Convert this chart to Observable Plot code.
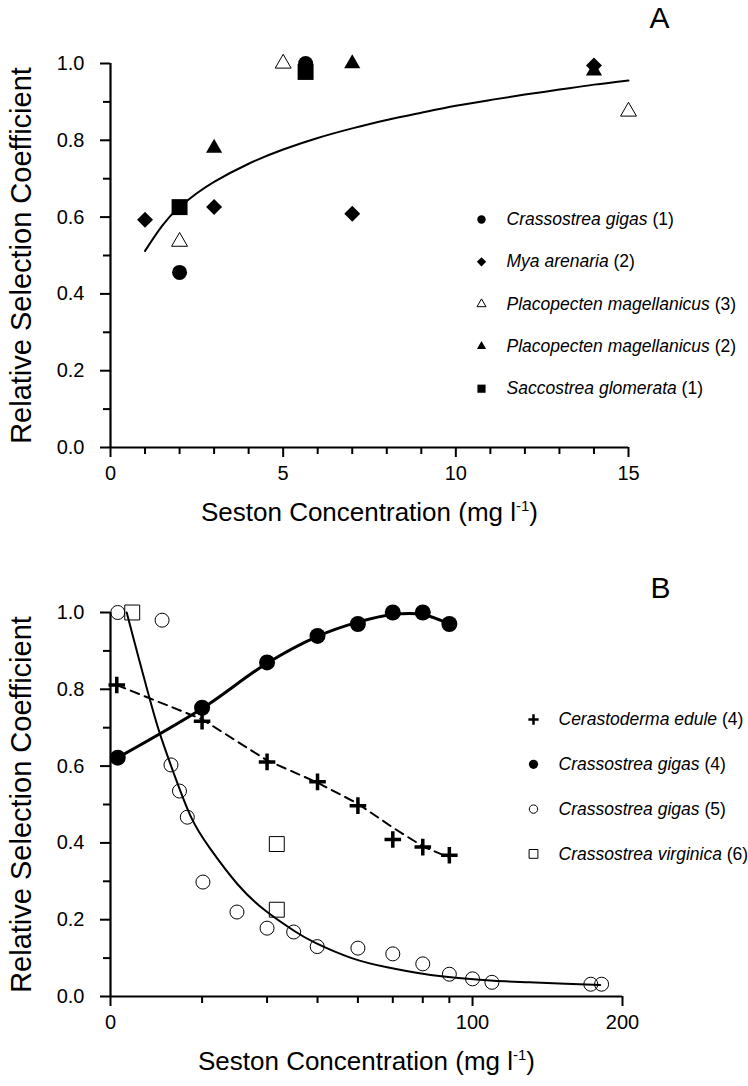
<!DOCTYPE html>
<html><head><meta charset="utf-8">
<script src="https://cdn.jsdelivr.net/npm/d3@7"></script>
<script src="https://cdn.jsdelivr.net/npm/@observablehq/plot@0.6"></script>
<style>
body{margin:0;background:#fff;}
#chart{width:748px;}
#chart svg{display:block;}
</style></head><body><div id="chart"></div>
<script>
// ---------- Panel A data ----------
const aNames = ["Crassostrea gigas", "Mya arenaria", "Placopecten magellanicus", "Placopecten magellanicus", "Saccostrea glomerata"];
const aRefs = ["(1)", "(2)", "(3)", "(2)", "(1)"];
const aCgigasX = [2, 5.65];
const aCgigasY = [0.456, 1.0];
const aMyaX = [1, 3, 7, 14];
const aMyaY = [0.593, 0.626, 0.609, 0.995];
const aPmag3X = [2, 5, 15];
const aPmag3Y = [0.536, 1.0, 0.875];
const aPmag2X = [3, 7, 14];
const aPmag2Y = [0.78, 1.0, 0.981];
const aSglomX = [2, 5.65];
const aSglomY = [0.626, 0.978];
const aFitX = [1, 1.5, 2, 2.5, 3, 4, 5, 6, 7, 8, 9, 10, 11, 12, 13, 14, 15];
const aFitY = [0.512, 0.578, 0.626, 0.662, 0.692, 0.739, 0.776, 0.806, 0.831, 0.853, 0.872, 0.890, 0.905, 0.919, 0.932, 0.945, 0.956];
const aXMajor = [0, 5, 10, 15];
const aXMinor = [1, 2, 3, 4, 6, 7, 8, 9, 11, 12, 13, 14];

// ---------- Panel B data ----------
const bNames = ["Cerastoderma edule", "Crassostrea gigas", "Crassostrea gigas", "Crassostrea virginica"];
const bRefs = ["(4)", "(4)", "(5)", "(6)"];
const bEduleX = [0.03, 6.4, 18.7, 32.7, 46.7, 60.8, 74.4, 87.6];
const bEduleY = [0.811, 0.717, 0.611, 0.559, 0.497, 0.409, 0.389, 0.368];
const bEduleFitX = [0.03, 6.4, 18.7, 32.7, 46.7, 60.8, 74.4, 87.6];
const bEduleFitY = [0.811, 0.722, 0.615, 0.557, 0.502, 0.440, 0.391, 0.362];
const bGigas4X = [0.04, 6.4, 18.7, 32.7, 46.7, 60.8, 74.4, 87.6];
const bGigas4Y = [0.622, 0.752, 0.870, 0.939, 0.970, 1.0, 1.0, 0.970];
const bGigas4FitY = [0.622, 0.750, 0.868, 0.938, 0.975, 0.995, 0.995, 0.970];
const bGigas5X = [0.04, 2.03, 2.79, 3.63, 4.5, 6.52, 12.2, 18.7, 25.6, 32.6, 46.7, 60.8, 74.4, 87.6, 100, 111, 176, 184];
const bGigas5Y = [1.0, 0.98, 0.603, 0.535, 0.467, 0.298, 0.22, 0.178, 0.168, 0.13, 0.126, 0.111, 0.085, 0.058, 0.046, 0.037, 0.032, 0.032];
const bGigas5FitX = [0.2, 0.6, 1.1, 1.8, 3.1, 5.0, 7.5, 12.4, 18.5, 25.9, 32.2, 44.4, 58.4, 74.4, 92.3, 112, 134, 158, 183];
const bGigas5FitY = [1.0, 0.883, 0.787, 0.691, 0.578, 0.465, 0.387, 0.291, 0.222, 0.170, 0.139, 0.100, 0.076, 0.059, 0.048, 0.041, 0.037, 0.033, 0.030];
const bVirgX = [0.36, 21.1, 21.1];
const bVirgY = [1.0, 0.397, 0.226];
const bXMajor = [0, 100, 200];
const bXMinor = [6.4, 18.7, 32.7, 46.7, 60.8, 74.4, 87.6];

const yMajor = [0, 0.2, 0.4, 0.6, 0.8, 1.0];
const yMinor = [0.1, 0.3, 0.5, 0.7, 0.9];
const yTitle = "Relative Selection Coefficient";
const xTitle = "Seston Concentration (mg l|-1|)";

// ---------- styles ----------
const FONT = "'Liberation Sans', Arial, Helvetica, sans-serif";
const aStyles = [
  {symbol: "circle", fill: "black", stroke: "none", r: 7.5, lr: 4.2, sw: 1},
  {symbol: "diamond2", fill: "black", stroke: "none", r: 7.2, lr: 4.2, sw: 1},
  {symbol: "triangle2", fill: "none", stroke: "black", r: 7.6, lr: 4.3, sw: 1},
  {symbol: "triangle", fill: "black", stroke: "none", r: 6, lr: 3.4, sw: 1},
  {symbol: "square", fill: "black", stroke: "none", r: 9, lr: 4.6, sw: 1}
];
const bStyles = [
  {symbol: "plus", fill: "none", stroke: "black", r: 5.4, lr: 3.4, sw: 3.5, lsw: 2.5},
  {symbol: "circle", fill: "black", stroke: "none", r: 8, lr: 4.6, sw: 1, lsw: 1},
  {symbol: "circle", fill: "none", stroke: "black", r: 7, lr: 4.2, sw: 1, lsw: 1},
  {symbol: "square2", fill: "none", stroke: "black", r: 9.5, lr: 5.6, sw: 1, lsw: 1}
];

const zip = (xs, ys) => xs.map((x, i) => ({x, y: ys[i]}));

function dots(xs, ys, s) {
  return Plot.dot(zip(xs, ys), {x: "x", y: "y", symbol: () => s.symbol, r: s.r, fill: s.fill, stroke: s.stroke, strokeWidth: s.sw});
}

function legend(names, refs, styles, dx0, dy0, gap, tdx) {
  const marks = [];
  names.forEach((n, i) => {
    const s = styles[i];
    marks.push(Plot.dot([0], {frameAnchor: "top-left", dx: dx0, dy: dy0 + i * gap, symbol: () => s.symbol, r: s.lr, fill: s.fill, stroke: s.stroke, strokeWidth: s.lsw || s.sw}));
    marks.push(Plot.text([n + "|" + refs[i]], {text: d => d, frameAnchor: "top-left", dx: tdx, dy: dy0 + i * gap, textAnchor: "start", lineAnchor: "middle", fontSize: 17.5, className: "leg"}));
  });
  return marks;
}

function commonAxes(xMajor, xMinor) {
  return [
    Plot.axisY(yMajor, {tickSize: 10, tickPadding: 16, tickFormat: d3.format(".1f"), fontSize: 20, strokeWidth: 2, label: null}),
    Plot.axisY(yMinor, {tickSize: 7, tickFormat: () => "", strokeWidth: 2, label: null}),
    Plot.axisX(xMajor, {tickSize: 10, tickPadding: 8, tickFormat: d => d, fontSize: 20, strokeWidth: 2, label: null}),
    Plot.axisX(xMinor, {tickSize: 7, tickFormat: () => "", strokeWidth: 2, label: null}),
    Plot.ruleX([0], {strokeWidth: 2.2}),
    Plot.ruleY([0], {strokeWidth: 2.2}),
    Plot.text([yTitle], {text: d => d, frameAnchor: "left", dx: -89, rotate: -90, textAnchor: "middle", lineAnchor: "middle", fontSize: 29}),
    Plot.text([xTitle], {text: d => d, frameAnchor: "bottom", dy: 65, textAnchor: "middle", lineAnchor: "middle", fontSize: 26, className: "xtitle"})
  ];
}

const plotA = Plot.plot({
  width: 748, height: 543,
  marginLeft: 110, marginRight: 120, marginTop: 63, marginBottom: 96,
  style: {fontFamily: FONT, fontSize: "20px", color: "black", background: "white"},
  x: {domain: [0, 15]},
  y: {domain: [0, 1]},
  marks: [
    ...commonAxes(aXMajor, aXMinor),
    Plot.line(zip(aFitX, aFitY), {x: "x", y: "y", curve: "natural", strokeWidth: 2}),
    dots(aCgigasX, aCgigasY, aStyles[0]),
    dots(aMyaX, aMyaY, aStyles[1]),
    dots(aPmag3X, aPmag3Y, aStyles[2]),
    dots(aPmag2X, aPmag2Y, aStyles[3]),
    dots(aSglomX, aSglomY, aStyles[4]),
    ...legend(aNames, aRefs, aStyles, 371, 156, 42.3, 396),
    Plot.text(["A"], {text: d => d, frameAnchor: "top-right", dx: 31, dy: -45, textAnchor: "middle", lineAnchor: "middle", fontSize: 30})
  ]
});

const plotB = Plot.plot({
  width: 748, height: 543,
  marginLeft: 110, marginRight: 126, marginTop: 69, marginBottom: 90,
  style: {fontFamily: FONT, fontSize: "20px", color: "black", background: "white"},
  x: {type: "sqrt", domain: [0, 200]},
  y: {domain: [0, 1]},
  marks: [
    ...commonAxes(bXMajor, bXMinor),
    Plot.line(zip(bGigas5FitX, bGigas5FitY), {x: "x", y: "y", curve: "natural", strokeWidth: 2}),
    Plot.line(zip(bGigas4X, bGigas4FitY), {x: "x", y: "y", curve: "catmull-rom", strokeWidth: 3}),
    Plot.line(zip(bEduleFitX, bEduleFitY), {x: "x", y: "y", strokeWidth: 2, strokeDasharray: "9,6"}),
    dots(bEduleX, bEduleY, bStyles[0]),
    dots(bGigas4X, bGigas4Y, bStyles[1]),
    dots(bGigas5X, bGigas5Y, bStyles[2]),
    dots(bVirgX, bVirgY, bStyles[3]),
    ...legend(bNames, bRefs, bStyles, 423, 107, 44.8, 448),
    Plot.text(["B"], {text: d => d, frameAnchor: "top-right", dx: 38, dy: -24, textAnchor: "middle", lineAnchor: "middle", fontSize: 30})
  ]
});

const NS = "http://www.w3.org/2000/svg";
function tspan(txt, attrs = {}) {
  const t = document.createElementNS(NS, "tspan");
  for (const k in attrs) t.setAttribute(k, attrs[k]);
  t.textContent = txt;
  return t;
}
function rich(svg) {
  svg.querySelectorAll("g.leg text").forEach(t => {
    const [name, ref] = t.textContent.split("|");
    t.textContent = "";
    t.append(tspan(name, {"font-style": "italic"}), tspan(" " + ref));
  });
  svg.querySelectorAll("g.xtitle text").forEach(t => {
    const [a, sup, c] = t.textContent.split("|");
    t.textContent = "";
    t.append(tspan(a), tspan(sup, {"font-size": "15", dy: "-10"}), tspan(c, {dy: "10"}));
  });
}
rich(plotA); rich(plotB);
document.getElementById("chart").append(plotA, plotB);
</script>
</body></html>
